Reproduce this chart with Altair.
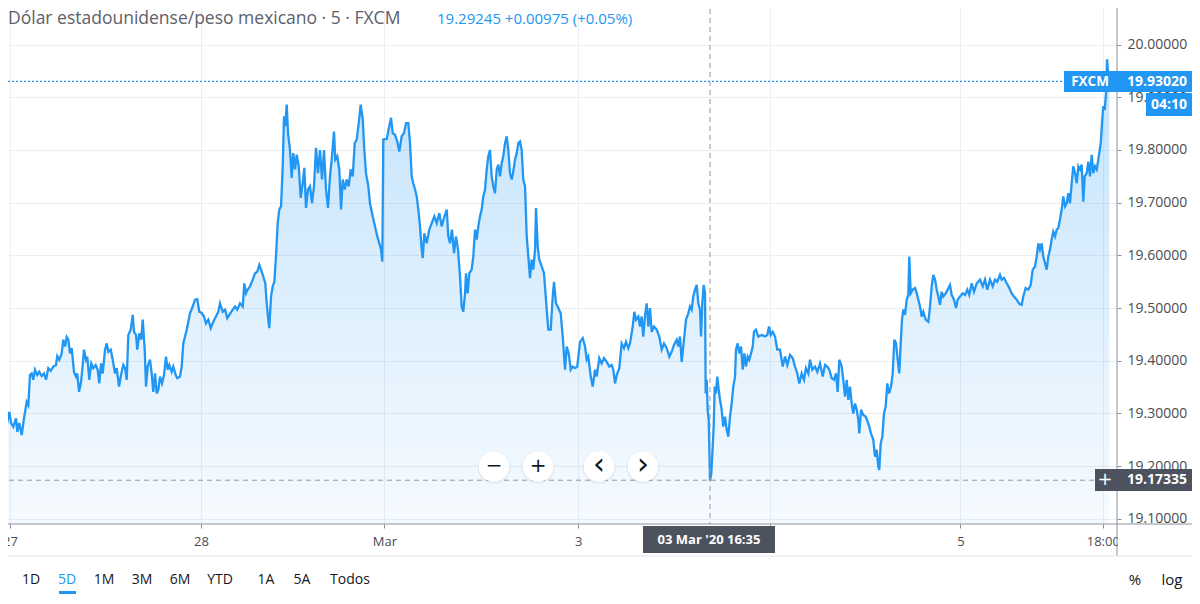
import altair as alt
import pandas as pd

# ---------------- data ----------------
# t: trading hours since 27 Feb 00:00 (approx.), p: USD/MXN price
T = [-1.04,-0.63,-0.41,-0.09,0.13,0.41,0.75,0.91,1.16,1.46,
     1.75,2.09,2.29,2.5,2.71,2.91,3.13,3.41,3.66,3.96,
     4.25,4.5,4.79,5.09,5.41,5.75,5.91,6.16,6.46,6.66,
     6.88,7.09,7.29,7.5,7.71,8.0,8.25,8.41,8.63,8.88,
     9.09,9.25,9.5,9.66,9.91,10.16,10.41,10.71,10.96,11.16,
     11.38,11.59,11.88,12.09,12.29,12.59,12.84,13.13,13.34,13.63,
     13.88,14.16,14.38,14.59,14.79,15.09,15.34,15.5,15.75,15.91,
     16.16,16.41,16.59,16.84,17.0,17.21,17.5,17.71,17.91,18.13,
     18.34,18.54,18.75,19.0,19.25,19.5,19.71,19.91,20.21,20.41,
     20.71,20.91,21.25,21.46,21.66,
     22.09,22.5,22.84,23.13,23.41,23.66,23.96,24.25,24.5,24.79,
     25.09,25.41,25.75,26.04,26.25,26.59,26.88,27.16,27.5,27.84,
     28.13,28.41,28.75,29.09,29.29,29.5,29.71,30.0,30.34,30.63,
     30.91,31.16,31.38,31.66,31.91,32.09,32.29,32.41,32.63,32.84,
     33.04,33.25,33.46,33.66,33.88,34.09,34.25,34.41,34.59,34.75,
     35.0,35.21,35.41,35.63,35.84,36.09,36.34,36.59,36.79,37.0,
     37.25,37.5,37.75,38.0,38.25,38.5,38.75,39.0,39.25,39.5,
     39.75,40.0,40.25,40.5,40.66,40.91,41.16,41.38,41.59,41.84,
     42.09,42.34,42.59,42.84,43.09,43.34,43.59,43.84,44.09,44.29,
     44.5,44.79,45.0,45.34,45.63,45.91,46.16,46.38,46.54,46.66,
     47.09,47.41,47.63,47.84,48.13,48.41,48.66,48.96,49.25,49.5,
     49.79,50.0,50.21,50.41,50.63,50.84,51.04,51.25,51.46,51.59,
     51.79,52.09,52.41,52.71,53.04,53.34,53.66,53.96,54.25,54.59,
     54.79,55.0,55.25,55.5,55.75,56.0,56.25,56.46,56.66,56.88,
     57.0,57.21,57.41,57.71,57.91,58.13,58.34,58.54,58.75,58.96,
     59.16,59.38,59.59,59.79,60.0,60.21,60.41,60.63,60.84,61.04,
     61.25,61.46,61.66,61.88,62.09,62.29,62.5,62.71,62.91,63.13,
     63.34,63.54,63.75,63.96,64.16,64.38,64.59,64.79,65.0,65.21,
     65.41,65.63,65.75,65.96,66.16,66.46,66.75,67.09,67.29,67.59,
     67.84,68.0,68.25,68.54,68.84,69.09,69.38,69.59,69.84,70.09,
     70.34,70.63,70.91,
     71.25,71.59,71.88,72.09,72.29,72.59,72.84,73.13,73.34,73.66,
     73.96,74.25,74.59,74.91,75.21,75.41,75.63,75.84,76.16,76.46,
     76.75,77.0,77.29,77.5,77.84,78.04,78.25,78.54,78.75,78.96,
     79.16,79.38,79.59,79.79,80.0,80.21,80.5,80.84,81.16,81.46,
     81.75,82.09,82.41,82.71,83.0,83.34,83.54,83.75,83.96,84.16,
     84.5,84.79,85.0,85.21,85.41,85.63,85.84,86.04,86.25,86.38,
     86.54,86.71,86.88,86.96,87.09,87.21,87.34,87.5,87.66,87.84,
     87.96,88.09,88.25,88.41,88.59,88.75,88.96,89.16,89.38,89.59,
     89.79,90.0,90.21,90.41,90.63,90.75,90.96,91.16,91.38,91.59,
     91.79,92.0,92.21,92.41,92.63,92.84,93.0,93.25,93.54,93.96,
     94.38,94.66,94.88,95.09,95.34,95.63,95.91,
     96.25,96.59,96.88,97.16,97.5,97.84,98.13,98.41,98.66,98.96,
     99.25,99.5,99.79,100.0,100.29,100.63,100.91,101.25,101.59,101.88,
     102.16,102.41,102.71,103.0,103.25,103.46,103.66,103.96,104.16,104.38,
     104.59,104.79,105.0,105.21,105.41,105.63,105.84,106.04,106.16,106.38,
     106.66,106.96,107.21,107.41,107.63,107.91,108.13,108.34,108.54,108.66,
     108.84,109.04,109.25,109.46,109.66,109.88,110.13,110.34,110.54,110.75,
     110.96,111.16,111.34,111.5,111.66,111.88,112.09,112.29,112.41,112.59,
     112.84,113.13,113.34,113.54,113.75,113.96,114.16,114.46,114.79,115.0,
     115.21,115.41,115.63,115.84,116.04,116.25,116.46,116.66,116.96,117.21,
     117.5,117.71,118.0,118.25,118.46,118.75,119.09,119.38,119.66,119.91,
     120.21,120.5,120.84,
     121.25,121.59,121.88,122.16,122.5,122.84,123.13,123.41,123.75,123.96,
     124.25,124.59,124.91,125.21,125.5,125.84,126.16,126.46,126.66,126.96,
     127.29,127.59,127.84,128.13,128.34,128.54,128.75,128.96,129.16,129.38,
     129.59,129.79,130.0,130.21,130.41,130.63,130.84,131.04,131.25,131.46,
     131.66,131.88,132.09,132.29,132.5,132.71,132.91,133.13,133.34,133.54,
     133.75,133.96,134.16,134.34,134.59,134.79,135.0,135.21,135.41,135.63,
     135.84,136.04,136.34,136.5,136.66,136.84,137.0,137.13,137.29,137.41]

P = [19.300,19.299,19.278,19.303,19.282,19.275,19.291,19.265,19.282,19.259,
     19.291,19.322,19.316,19.373,19.376,19.364,19.383,19.373,19.379,19.371,
     19.376,19.364,19.386,19.381,19.389,19.392,19.409,19.402,19.414,19.440,
     19.427,19.445,19.440,19.414,19.424,19.379,19.370,19.376,19.341,19.360,
     19.392,19.421,19.402,19.408,19.364,19.395,19.386,19.392,19.383,19.357,
     19.395,19.376,19.421,19.433,19.417,19.421,19.402,19.376,19.386,19.351,
     19.373,19.392,19.386,19.364,19.449,19.459,19.487,19.455,19.449,19.421,
     19.452,19.440,19.478,19.421,19.351,19.389,19.402,19.376,19.341,19.376,
     19.338,19.345,19.370,19.357,19.373,19.408,19.383,19.392,19.379,19.389,
     19.373,19.367,19.370,19.389,19.433,
     19.459,19.490,19.503,19.516,19.517,19.493,19.491,19.484,19.471,19.478,
     19.462,19.474,19.484,19.493,19.509,19.493,19.497,19.481,19.489,19.497,
     19.503,19.497,19.509,19.503,19.547,19.528,19.535,19.541,19.554,19.566,
     19.569,19.582,19.573,19.560,19.547,19.509,19.478,19.462,19.522,19.541,
     19.550,19.598,19.661,19.687,19.693,19.769,19.864,19.845,19.886,19.832,
     19.800,19.747,19.794,19.763,19.791,19.769,19.709,19.737,19.766,19.690,
     19.725,19.731,19.699,19.731,19.804,19.756,19.800,19.744,19.800,19.725,
     19.690,19.750,19.788,19.835,19.782,19.788,19.763,19.687,19.744,19.725,
     19.744,19.731,19.763,19.750,19.813,19.820,19.851,19.886,19.858,19.800,
     19.756,19.731,19.699,19.674,19.655,19.636,19.623,19.611,19.588,19.820,
     19.821,19.845,19.861,19.832,19.829,19.816,19.797,19.826,19.832,19.851,
     19.851,19.813,19.750,19.737,19.725,19.712,19.687,19.655,19.611,19.595,
     19.642,19.623,19.649,19.661,19.674,19.661,19.680,19.655,19.671,19.687,
     19.636,19.623,19.649,19.604,19.636,19.611,19.560,19.503,19.493,19.528,
     19.566,19.528,19.566,19.573,19.598,19.649,19.630,19.655,19.674,19.687,
     19.712,19.725,19.763,19.788,19.800,19.750,19.731,19.718,19.763,19.772,
     19.750,19.775,19.788,19.813,19.826,19.800,19.756,19.744,19.759,19.782,
     19.794,19.813,19.816,19.800,19.744,19.731,19.636,19.598,19.557,19.592,
     19.573,19.611,19.690,19.617,19.592,19.579,19.566,19.497,19.459,19.459,
     19.522,19.550,19.509,19.500,19.490,19.446,19.383,19.427,19.414,19.383,
     19.389,19.386,19.389,
     19.436,19.443,19.427,19.402,19.408,19.370,19.351,19.383,19.370,19.405,
     19.395,19.405,19.398,19.389,19.392,19.383,19.357,19.373,19.386,19.433,
     19.424,19.436,19.424,19.433,19.465,19.493,19.478,19.484,19.465,19.484,
     19.446,19.487,19.509,19.465,19.500,19.455,19.465,19.459,19.446,19.421,
     19.433,19.424,19.408,19.417,19.430,19.440,19.427,19.446,19.398,19.427,
     19.478,19.490,19.503,19.497,19.522,19.535,19.544,19.509,19.497,19.446,
     19.509,19.544,19.528,19.338,19.364,19.307,19.288,19.173,19.186,19.237,
     19.275,19.351,19.338,19.370,19.345,19.326,19.307,19.275,19.294,19.269,
     19.256,19.294,19.319,19.351,19.370,19.421,19.433,19.414,19.427,19.383,
     19.414,19.389,19.408,19.402,19.414,19.427,19.455,19.459,19.446,19.449,
     19.446,19.449,19.465,19.449,19.455,19.446,19.421,
     19.421,19.389,19.408,19.392,19.411,19.405,19.389,19.376,19.357,19.376,
     19.364,19.386,19.376,19.402,19.383,19.389,19.379,19.395,19.370,19.392,
     19.389,19.383,19.367,19.364,19.376,19.341,19.402,19.389,19.364,19.332,
     19.364,19.326,19.351,19.319,19.300,19.319,19.307,19.288,19.262,19.307,
     19.297,19.294,19.284,19.275,19.262,19.250,19.218,19.231,19.199,19.193,
     19.243,19.256,19.300,19.313,19.357,19.338,19.351,19.376,19.440,19.433,
     19.402,19.376,19.433,19.478,19.497,19.487,19.516,19.525,19.598,19.528,
     19.535,19.538,19.528,19.516,19.503,19.484,19.493,19.478,19.474,19.503,
     19.541,19.563,19.554,19.535,19.522,19.506,19.531,19.522,19.528,19.535,
     19.544,19.525,19.516,19.500,19.516,19.522,19.528,19.525,19.535,19.525,
     19.547,19.531,19.547,
     19.554,19.541,19.554,19.535,19.554,19.541,19.554,19.550,19.563,19.554,
     19.557,19.547,19.538,19.528,19.522,19.516,19.508,19.506,19.522,19.538,
     19.535,19.544,19.573,19.579,19.598,19.623,19.611,19.623,19.598,19.585,
     19.573,19.598,19.611,19.630,19.645,19.636,19.649,19.652,19.668,19.687,
     19.712,19.693,19.699,19.718,19.699,19.737,19.769,19.756,19.737,19.769,
     19.763,19.772,19.702,19.750,19.756,19.778,19.750,19.791,19.756,19.769,
     19.763,19.782,19.813,19.851,19.883,19.876,19.908,19.972,19.940,19.930]

assert len(T) == len(P), (len(T), len(P))

X_TICKS = [0, 23.88, 46.79, 71.04, 95.0, 118.8, 136.6]
X_LABELS = ["27", "28", "Mar", "3", "4", "5", "18:00"]
Y_TICKS = [19.1, 19.2, 19.3, 19.4, 19.5, 19.6, 19.7, 19.8, 19.9, 20.0]
LAST_PRICE = 19.9302
LAST_PRICE_TXT = "19.93020"
COUNTDOWN = "04:10"
CROSS_T = 87.5
CROSS_P = 19.17335
CROSS_P_TXT = "19.17335"
CROSS_T_TXT = "03 Mar '20    16:35"
TITLE = "Dólar estadounidense/peso mexicano · 5 · FXCM"
QUOTE = "19.29245 +0.00975 (+0.05%)"
RANGES = ["1D", "5D", "1M", "3M", "6M", "YTD", "1A", "5A", "Todos"]

# ---------------- layout / style ----------------
W, H = 1117, 524
X_DOMAIN = [-1.25, 138.375]
Y_DOMAIN = [19.0903, 20.0846]
FONT = "Open Sans"
BLUE = "#2196f3"
GRID = "#eceef2"
AXIS = "#8d9099"
TXT = "#4a4c52"
DARK = "#4c525e"
RANGE_X = [31, 67, 104, 142, 180, 220, 266, 302, 350]

df = pd.DataFrame({"t": T, "p": P})
one = pd.DataFrame({"k": [0]})

xs = alt.Scale(domain=X_DOMAIN, nice=False, zero=False)
ys = alt.Scale(domain=Y_DOMAIN, nice=False, zero=False)

expr = "''"
for v, lab in reversed(list(zip(X_TICKS, X_LABELS))):
    expr = f"abs(datum.value - {v}) < 0.5 ? '{lab}' : {expr}"

xaxis = alt.Axis(values=X_TICKS, labelExpr=expr, grid=True, gridColor=GRID,
                 domain=False, ticks=True, tickSize=4, tickColor=AXIS,
                 labelColor=TXT, labelFont=FONT, labelFontSize=13,
                 labelPadding=7, title=None, labelOverlap=False, labelFlush=False)
yaxis = alt.Axis(values=Y_TICKS, format=".5f", orient="right", grid=True,
                 gridColor=GRID, domain=False, tickSize=4, tickColor=AXIS,
                 labelAlign="left", labelPadding=6, labelColor=TXT,
                 labelFont=FONT, labelFontSize=14, title=None)

grad = alt.Gradient(gradient="linear",
                    stops=[alt.GradientStop(color="rgba(33,150,243,0.27)", offset=0),
                           alt.GradientStop(color="rgba(33,150,243,0.04)", offset=1)],
                    x1=0, x2=0, y1=0, y2=1)

area = alt.Chart(df).mark_area(color=grad, interpolate="linear").encode(
    x=alt.X("t:Q", scale=xs, axis=xaxis),
    y=alt.Y("p:Q", scale=ys, axis=yaxis),
    y2=alt.datum(Y_DOMAIN[0]),
)
line = alt.Chart(df).mark_line(color=BLUE, strokeWidth=2.3, interpolate="linear").encode(
    x=alt.X("t:Q", scale=xs), y=alt.Y("p:Q", scale=ys))


def rect(x, x2, y, y2, color):
    return alt.Chart(one).mark_rect(color=color).encode(
        x=alt.value(x), x2=alt.value(x2), y=alt.value(y), y2=alt.value(y2))


def text(s, x, y, size=13, color=TXT, align="left", weight="normal", font=FONT):
    return alt.Chart(one).mark_text(text=s, fontSize=size, color=color, align=align,
                                    baseline="middle", fontWeight=weight, font=font).encode(
        x=alt.value(x), y=alt.value(y))


def rule(x, x2, y, y2, color, width=1):
    return alt.Chart(one).mark_rule(color=color, strokeWidth=width).encode(
        x=alt.value(x), x2=alt.value(x2), y=alt.value(y), y2=alt.value(y2))


layers = [area, line]

# last-price dotted line
layers.append(alt.Chart(one).mark_rule(color=BLUE, strokeWidth=1.2, strokeDash=[2, 2]).encode(
    y=alt.Y(datum=LAST_PRICE, scale=ys), x=alt.value(0), x2=alt.value(1064)))
# crosshair
layers.append(alt.Chart(one).mark_rule(color="#9598a1", strokeWidth=1, strokeDash=[5, 4]).encode(
    x=alt.X(datum=CROSS_T, scale=xs)))
layers.append(alt.Chart(one).mark_rule(color="#9598a1", strokeWidth=1, strokeDash=[5, 4]).encode(
    y=alt.Y(datum=CROSS_P, scale=ys), x=alt.value(0), x2=alt.value(1095)))

# cover the price-scale panel below plot, axis lines
layers.append(rect(1118, 1200, 525, 555, "white"))
layers.append(rule(0, 1200, 524, 524, AXIS))
layers.append(rule(1117, 1117, 0, 556, AXIS))
layers.append(rule(0, 1200, 556, 556, "#e0e3eb"))

# navigation buttons
for bx, glyph in [(494, "−"), (538, "+"), (599, "‹"), (643, "›")]:
    layers.append(alt.Chart(one).mark_circle(size=1100, color="#000000", opacity=0.05).encode(
        x=alt.value(bx), y=alt.value(467.5)))
    layers.append(alt.Chart(one).mark_circle(size=930, color="white", opacity=1).encode(
        x=alt.value(bx), y=alt.value(466.5)))
    big = glyph in ("‹", "›")
    layers.append(text(glyph, bx, 465 if big else 466, size=30 if big else 20,
                       color="#131722", align="center", font="DejaVu Sans"))

# price labels on the right scale
layers.append(rect(1064, 1196, 71, 92, BLUE))
layers.append(text("FXCM", 1090, 81.5, 13.5, "white", "center", "bold"))
layers.append(text(LAST_PRICE_TXT, 1127, 81.5, 14, "white", "left", "bold"))
layers.append(rect(1146, 1196, 93, 116, BLUE))
layers.append(text(COUNTDOWN, 1169, 104.5, 14, "white", "center", "bold"))

layers.append(rect(1095, 1196, 469, 491, DARK))
layers.append(text("+", 1105, 479.5, 18, "white", "center", "normal", "DejaVu Sans"))
layers.append(text(CROSS_P_TXT, 1127, 480, 14, "white", "left", "bold"))

layers.append(rect(643, 775, 526, 553, DARK))
layers.append(text(CROSS_T_TXT, 709, 540, 13, "white", "center", "bold"))

# title / quote
layers.append(text(TITLE, 8, 18.5, 17.5, "#5d606b", "left"))
layers.append(text(QUOTE, 437, 18.5, 15, BLUE, "left"))

# bottom toolbar
for lab, tx in zip(RANGES, RANGE_X):
    layers.append(text(lab, tx, 580, 14, BLUE if lab == "5D" else "#131722", "center"))
layers.append(rect(59, 76, 591, 594, BLUE))
layers.append(text("%", 1135, 580, 15, "#131722", "center"))
layers.append(text("log", 1172, 580, 15, "#131722", "center"))

chart = alt.layer(*layers).properties(
    width=W, height=H,
    padding={"left": -8, "top": -8, "right": 75, "bottom": 70},
    autosize=alt.AutoSizeParams(type="none"),
    background="white",
).configure_view(stroke=None)

chart.save("out.html", embed_options={"renderer": "svg", "actions": False})
